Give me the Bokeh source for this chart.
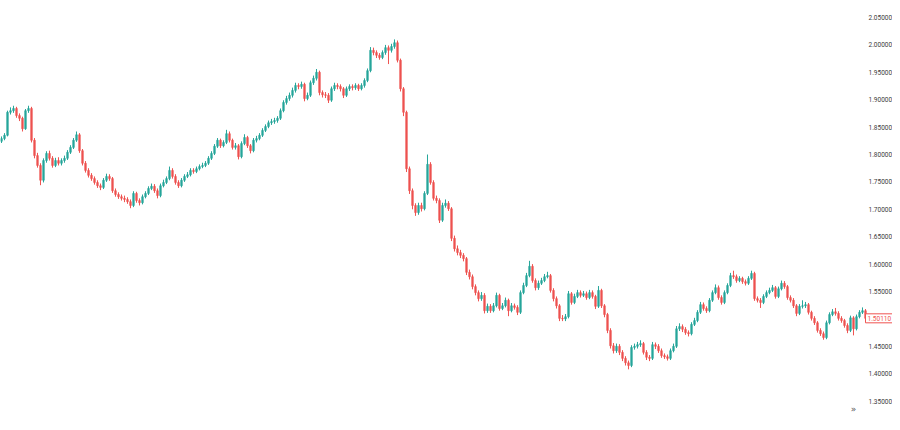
from bokeh.plotting import figure
from bokeh.models import ColumnDataSource, FixedTicker, NumeralTickFormatter, Range1d, Label
from bokeh.embed import file_html
from bokeh.resources import INLINE

# ---- data ----
open_ = [
    1.824, 1.829, 1.835, 1.877, 1.880, 1.884, 1.871, 1.866, 1.847, 1.880,
    1.884, 1.826, 1.798, 1.780, 1.753, 1.789, 1.802, 1.793, 1.780, 1.789,
    1.784, 1.789, 1.793, 1.804, 1.813, 1.826, 1.836, 1.807, 1.784, 1.771,
    1.762, 1.756, 1.749, 1.743, 1.740, 1.753, 1.760, 1.756, 1.734, 1.727,
    1.723, 1.720, 1.718, 1.714, 1.707, 1.729, 1.716, 1.712, 1.723, 1.729,
    1.738, 1.742, 1.734, 1.725, 1.743, 1.749, 1.756, 1.771, 1.760, 1.749,
    1.743, 1.753, 1.760, 1.763, 1.771, 1.769, 1.774, 1.778, 1.780, 1.784,
    1.793, 1.802, 1.815, 1.826, 1.816, 1.822, 1.838, 1.826, 1.813, 1.816,
    1.796, 1.820, 1.831, 1.816, 1.807, 1.826, 1.829, 1.835, 1.844, 1.851,
    1.858, 1.860, 1.862, 1.866, 1.880, 1.895, 1.902, 1.908, 1.917, 1.926,
    1.924, 1.928, 1.902, 1.908, 1.931, 1.939, 1.950, 1.913, 1.909, 1.908,
    1.899, 1.920, 1.926, 1.924, 1.920, 1.908, 1.920, 1.924, 1.922, 1.926,
    1.920, 1.926, 1.935, 1.953, 1.990, 1.986, 1.981, 1.977, 1.986, 1.995,
    1.990, 1.997, 2.004, 1.972, 1.920, 1.877, 1.774, 1.734, 1.707, 1.694,
    1.707, 1.701, 1.729, 1.782, 1.749, 1.720, 1.716, 1.680, 1.707, 1.711,
    1.701, 1.647, 1.628, 1.621, 1.616, 1.610, 1.585, 1.577, 1.559, 1.548,
    1.537, 1.543, 1.515, 1.523, 1.515, 1.524, 1.543, 1.519, 1.524, 1.534,
    1.515, 1.524, 1.521, 1.512, 1.548, 1.561, 1.579, 1.596, 1.570, 1.557,
    1.565, 1.570, 1.577, 1.579, 1.552, 1.537, 1.524, 1.501, 1.500, 1.504,
    1.546, 1.530, 1.541, 1.548, 1.543, 1.546, 1.539, 1.548, 1.541, 1.523,
    1.552, 1.524, 1.508, 1.479, 1.451, 1.442, 1.450, 1.439, 1.428, 1.420,
    1.415, 1.448, 1.450, 1.453, 1.455, 1.439, 1.430, 1.428, 1.453, 1.450,
    1.442, 1.433, 1.431, 1.428, 1.442, 1.450, 1.482, 1.486, 1.481, 1.475,
    1.473, 1.490, 1.497, 1.512, 1.526, 1.519, 1.515, 1.534, 1.548, 1.557,
    1.539, 1.530, 1.548, 1.561, 1.579, 1.577, 1.570, 1.574, 1.568, 1.565,
    1.574, 1.583, 1.537, 1.534, 1.530, 1.541, 1.548, 1.552, 1.557, 1.541,
    1.555, 1.565, 1.559, 1.539, 1.534, 1.524, 1.510, 1.523, 1.524, 1.526,
    1.512, 1.501, 1.493, 1.479, 1.473, 1.466, 1.493, 1.508, 1.513, 1.510,
    1.501, 1.497, 1.488, 1.479, 1.502, 1.482, 1.504, 1.512, 1.515,
]
high = [
    1.833, 1.839, 1.880, 1.886, 1.889, 1.887, 1.875, 1.869, 1.883, 1.889,
    1.887, 1.830, 1.803, 1.784, 1.793, 1.806, 1.807, 1.797, 1.794, 1.795,
    1.793, 1.798, 1.808, 1.817, 1.830, 1.842, 1.839, 1.810, 1.788, 1.775,
    1.766, 1.760, 1.753, 1.747, 1.757, 1.765, 1.764, 1.759, 1.738, 1.731,
    1.727, 1.725, 1.722, 1.718, 1.733, 1.732, 1.720, 1.727, 1.733, 1.742,
    1.747, 1.746, 1.738, 1.747, 1.754, 1.760, 1.778, 1.775, 1.764, 1.753,
    1.757, 1.764, 1.768, 1.775, 1.775, 1.778, 1.782, 1.785, 1.788, 1.797,
    1.806, 1.819, 1.830, 1.829, 1.826, 1.845, 1.842, 1.829, 1.821, 1.819,
    1.824, 1.837, 1.834, 1.819, 1.830, 1.834, 1.839, 1.848, 1.855, 1.862,
    1.865, 1.867, 1.870, 1.884, 1.899, 1.907, 1.913, 1.922, 1.931, 1.930,
    1.933, 1.931, 1.913, 1.935, 1.944, 1.956, 1.953, 1.917, 1.914, 1.912,
    1.924, 1.931, 1.930, 1.928, 1.923, 1.924, 1.928, 1.928, 1.930, 1.929,
    1.930, 1.939, 1.957, 1.996, 1.995, 1.990, 1.985, 1.990, 2.000, 1.999,
    2.002, 2.010, 2.008, 1.975, 1.923, 1.880, 1.778, 1.738, 1.711, 1.712,
    1.712, 1.733, 1.800, 1.786, 1.753, 1.725, 1.720, 1.712, 1.718, 1.715,
    1.704, 1.652, 1.634, 1.626, 1.620, 1.613, 1.590, 1.581, 1.563, 1.552,
    1.549, 1.547, 1.528, 1.527, 1.529, 1.548, 1.546, 1.529, 1.539, 1.537,
    1.529, 1.528, 1.525, 1.552, 1.566, 1.584, 1.606, 1.600, 1.574, 1.570,
    1.575, 1.582, 1.586, 1.582, 1.556, 1.541, 1.527, 1.507, 1.509, 1.551,
    1.549, 1.546, 1.553, 1.552, 1.551, 1.550, 1.553, 1.552, 1.544, 1.560,
    1.555, 1.527, 1.511, 1.483, 1.456, 1.455, 1.454, 1.443, 1.432, 1.424,
    1.452, 1.455, 1.458, 1.461, 1.458, 1.443, 1.434, 1.458, 1.457, 1.454,
    1.446, 1.437, 1.435, 1.446, 1.455, 1.487, 1.492, 1.490, 1.485, 1.479,
    1.494, 1.502, 1.516, 1.531, 1.530, 1.523, 1.538, 1.552, 1.563, 1.561,
    1.543, 1.552, 1.565, 1.584, 1.588, 1.581, 1.578, 1.577, 1.572, 1.578,
    1.588, 1.586, 1.541, 1.538, 1.545, 1.552, 1.557, 1.562, 1.560, 1.559,
    1.570, 1.569, 1.562, 1.543, 1.538, 1.527, 1.527, 1.534, 1.531, 1.529,
    1.515, 1.505, 1.496, 1.483, 1.477, 1.497, 1.512, 1.518, 1.520, 1.514,
    1.505, 1.500, 1.492, 1.506, 1.505, 1.508, 1.516, 1.521, 1.518,
]
low = [
    1.821, 1.826, 1.833, 1.873, 1.876, 1.867, 1.861, 1.842, 1.845, 1.876,
    1.822, 1.793, 1.776, 1.744, 1.749, 1.785, 1.789, 1.776, 1.777, 1.780,
    1.780, 1.785, 1.790, 1.801, 1.810, 1.823, 1.803, 1.780, 1.767, 1.758,
    1.752, 1.745, 1.739, 1.735, 1.737, 1.750, 1.752, 1.730, 1.723, 1.719,
    1.716, 1.713, 1.710, 1.702, 1.704, 1.712, 1.707, 1.709, 1.720, 1.726,
    1.735, 1.730, 1.720, 1.722, 1.740, 1.746, 1.753, 1.756, 1.745, 1.739,
    1.740, 1.750, 1.757, 1.760, 1.765, 1.766, 1.771, 1.775, 1.777, 1.781,
    1.790, 1.799, 1.812, 1.812, 1.813, 1.819, 1.822, 1.809, 1.809, 1.791,
    1.793, 1.817, 1.812, 1.802, 1.804, 1.822, 1.826, 1.832, 1.841, 1.848,
    1.854, 1.856, 1.858, 1.863, 1.877, 1.891, 1.898, 1.904, 1.913, 1.919,
    1.920, 1.897, 1.899, 1.905, 1.927, 1.935, 1.908, 1.904, 1.903, 1.894,
    1.896, 1.916, 1.919, 1.915, 1.903, 1.905, 1.916, 1.917, 1.918, 1.916,
    1.917, 1.922, 1.932, 1.950, 1.981, 1.976, 1.973, 1.974, 1.982, 1.965,
    1.986, 1.993, 1.968, 1.915, 1.870, 1.768, 1.728, 1.700, 1.688, 1.690,
    1.696, 1.698, 1.726, 1.745, 1.716, 1.711, 1.675, 1.677, 1.703, 1.697,
    1.642, 1.623, 1.616, 1.611, 1.605, 1.580, 1.572, 1.554, 1.543, 1.532,
    1.533, 1.510, 1.511, 1.511, 1.512, 1.521, 1.515, 1.516, 1.521, 1.505,
    1.512, 1.517, 1.507, 1.509, 1.545, 1.558, 1.576, 1.566, 1.552, 1.553,
    1.562, 1.567, 1.574, 1.548, 1.532, 1.519, 1.496, 1.496, 1.496, 1.501,
    1.526, 1.527, 1.538, 1.539, 1.540, 1.535, 1.536, 1.537, 1.518, 1.520,
    1.520, 1.503, 1.474, 1.446, 1.437, 1.438, 1.434, 1.423, 1.415, 1.408,
    1.412, 1.444, 1.446, 1.449, 1.435, 1.425, 1.423, 1.425, 1.445, 1.438,
    1.429, 1.427, 1.424, 1.425, 1.439, 1.447, 1.478, 1.476, 1.471, 1.468,
    1.470, 1.487, 1.494, 1.509, 1.515, 1.511, 1.512, 1.531, 1.545, 1.535,
    1.526, 1.527, 1.545, 1.558, 1.573, 1.566, 1.567, 1.564, 1.561, 1.562,
    1.571, 1.533, 1.530, 1.520, 1.527, 1.538, 1.545, 1.549, 1.537, 1.538,
    1.552, 1.555, 1.535, 1.530, 1.520, 1.505, 1.507, 1.519, 1.520, 1.508,
    1.497, 1.489, 1.475, 1.469, 1.462, 1.463, 1.490, 1.505, 1.506, 1.497,
    1.493, 1.484, 1.474, 1.476, 1.470, 1.479, 1.501, 1.509, 1.497,
]
close = [
    1.829, 1.835, 1.877, 1.880, 1.884, 1.871, 1.866, 1.847, 1.880, 1.884,
    1.826, 1.798, 1.780, 1.753, 1.789, 1.802, 1.793, 1.780, 1.789, 1.784,
    1.789, 1.793, 1.804, 1.813, 1.826, 1.836, 1.807, 1.784, 1.771, 1.762,
    1.756, 1.749, 1.743, 1.740, 1.753, 1.760, 1.756, 1.734, 1.727, 1.723,
    1.720, 1.718, 1.714, 1.707, 1.729, 1.716, 1.712, 1.723, 1.729, 1.738,
    1.742, 1.734, 1.725, 1.743, 1.749, 1.756, 1.771, 1.760, 1.749, 1.743,
    1.753, 1.760, 1.763, 1.771, 1.769, 1.774, 1.778, 1.780, 1.784, 1.793,
    1.802, 1.815, 1.826, 1.816, 1.822, 1.838, 1.826, 1.813, 1.816, 1.796,
    1.820, 1.831, 1.816, 1.807, 1.826, 1.829, 1.835, 1.844, 1.851, 1.858,
    1.860, 1.862, 1.866, 1.880, 1.895, 1.902, 1.908, 1.917, 1.926, 1.924,
    1.928, 1.902, 1.908, 1.931, 1.939, 1.950, 1.913, 1.909, 1.908, 1.899,
    1.920, 1.926, 1.924, 1.920, 1.908, 1.920, 1.924, 1.922, 1.926, 1.920,
    1.926, 1.935, 1.953, 1.990, 1.986, 1.981, 1.977, 1.986, 1.995, 1.990,
    1.997, 2.004, 1.972, 1.920, 1.877, 1.774, 1.734, 1.707, 1.694, 1.707,
    1.701, 1.729, 1.782, 1.749, 1.720, 1.716, 1.680, 1.707, 1.711, 1.701,
    1.647, 1.628, 1.621, 1.616, 1.610, 1.585, 1.577, 1.559, 1.548, 1.537,
    1.543, 1.515, 1.523, 1.515, 1.524, 1.543, 1.519, 1.524, 1.534, 1.515,
    1.524, 1.521, 1.512, 1.548, 1.561, 1.579, 1.596, 1.570, 1.557, 1.565,
    1.570, 1.577, 1.579, 1.552, 1.537, 1.524, 1.501, 1.500, 1.504, 1.546,
    1.530, 1.541, 1.548, 1.543, 1.546, 1.539, 1.548, 1.541, 1.523, 1.552,
    1.524, 1.508, 1.479, 1.451, 1.442, 1.450, 1.439, 1.428, 1.420, 1.415,
    1.448, 1.450, 1.453, 1.455, 1.439, 1.430, 1.428, 1.453, 1.450, 1.442,
    1.433, 1.431, 1.428, 1.442, 1.450, 1.482, 1.486, 1.481, 1.475, 1.473,
    1.490, 1.497, 1.512, 1.526, 1.519, 1.515, 1.534, 1.548, 1.557, 1.539,
    1.530, 1.548, 1.561, 1.579, 1.577, 1.570, 1.574, 1.568, 1.565, 1.574,
    1.583, 1.537, 1.534, 1.530, 1.541, 1.548, 1.552, 1.557, 1.541, 1.555,
    1.565, 1.559, 1.539, 1.534, 1.524, 1.510, 1.523, 1.524, 1.526, 1.512,
    1.501, 1.493, 1.479, 1.473, 1.466, 1.493, 1.508, 1.513, 1.510, 1.501,
    1.497, 1.488, 1.479, 1.502, 1.482, 1.504, 1.512, 1.515, 1.5011,
]
price_ticks = [1.30, 1.35, 1.40, 1.45, 1.50, 1.55, 1.60, 1.65, 1.70,
               1.75, 1.80, 1.85, 1.90, 1.95, 2.00, 2.05]
last_price = 1.5011
last_price_text = "1.50110"

UP = "#26a69a"
DOWN = "#ef5350"

n = len(close)
idx = list(range(n))
colors = [UP if c >= o else DOWN for o, c in zip(open_, close)]
tops = [max(o, c) for o, c in zip(open_, close)]
bottoms = [min(o, c) for o, c in zip(open_, close)]

src = ColumnDataSource(dict(x=idx, h=high, l=low, top=tops, bottom=bottoms, color=colors))

# price-scale column sits just right of the last bar
scale_x = 288.67

p = figure(width=892, height=414, output_backend="svg", toolbar_location=None,
           x_range=Range1d(-0.333, 297.0), y_range=Range1d(1.3256, 2.0810),
           x_axis_location=None, y_axis_location="right",
           min_border_left=0, min_border_right=0, min_border_top=0, min_border_bottom=0)
p.outline_line_color = None
p.grid.visible = False
p.background_fill_color = "white"
p.border_fill_color = "white"

p.segment(x0="x", y0="h", x1="x", y1="l", color="color", line_width=1, source=src)
p.vbar(x="x", width=0.55, top="top", bottom="bottom", fill_color="color",
       line_color="color", line_width=0.6, source=src)

ax = p.yaxis[0]
ax.fixed_location = scale_x
ax.ticker = FixedTicker(ticks=price_ticks)
ax.formatter = NumeralTickFormatter(format="0.00000")
ax.axis_line_color = None
ax.major_tick_line_color = None
ax.minor_tick_line_color = None
ax.major_tick_out = 0
ax.major_tick_in = 0
ax.minor_tick_out = 0
ax.minor_tick_in = 0
ax.major_label_text_font = "Roboto"
ax.major_label_text_font_size = "6.5px"
ax.major_label_text_color = "#3c3c3c"
ax.major_label_standoff = 1

price_label = Label(x=288.0, x_units="data", y=last_price, y_units="data",
                    text=last_price_text, text_font="Roboto", text_font_size="6.5px",
                    text_color=DOWN, text_align="left", text_baseline="middle",
                    border_line_color=DOWN, border_line_width=1,
                    background_fill_color="white", padding=2)
p.add_layout(price_label)

nav_label = Label(x=853, x_units="screen", y=1, y_units="screen", text="»",
                  text_font="DejaVu Sans", text_font_size="9px", text_color="#555555",
                  text_align="center", text_baseline="bottom")
p.add_layout(nav_label)

open("out.html", "w").write(file_html(p, INLINE))
